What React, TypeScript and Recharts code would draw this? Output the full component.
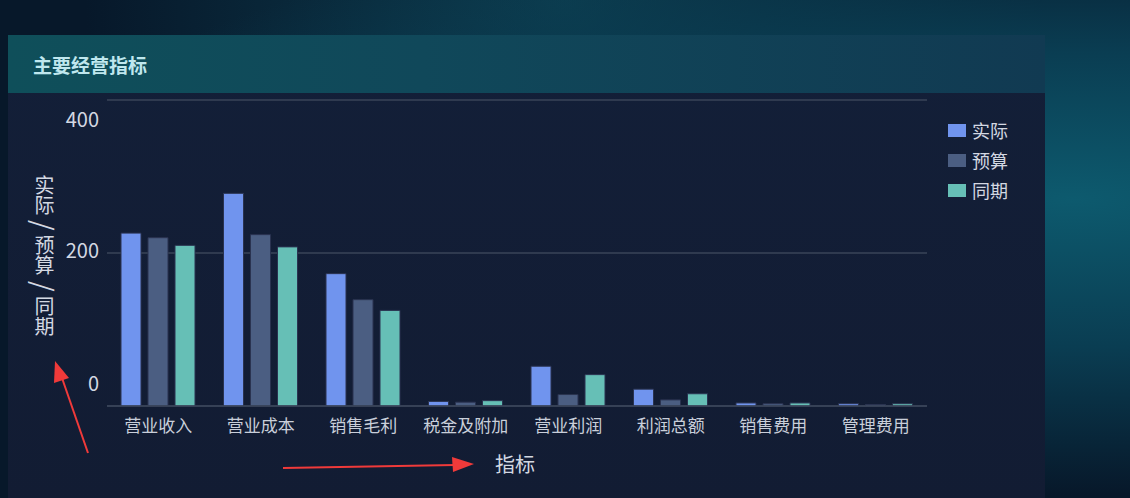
import React from "react"
import { Bar, BarChart, CartesianGrid, XAxis, YAxis } from "recharts"

const categories = ["营业收入", "营业成本", "销售毛利", "税金及附加", "营业利润", "利润总额", "销售费用", "管理费用"]
const actual = [226, 278, 173, 6, 52, 22, 4, 3]
const budget = [220, 224, 139, 5, 15, 8, 3, 2]
const lastYear = [210, 208, 125, 7, 41, 16, 4, 3]
const yTicks = [0, 200, 400]
const yTitleParts = ["实际", "预算", "同期"]

const SERIES = [
  { key: "实际", color: "#7094ee" },
  { key: "预算", color: "#4b5e82" },
  { key: "同期", color: "#66bfb6" },
]

const chartData = categories.map((name, i) => ({
  name,
  实际: actual[i],
  预算: budget[i],
  同期: lastYear[i],
}))

const FONT = '"Noto Sans CJK SC", "Noto Sans", sans-serif'

// tick labels sit a bit off the grid lines in the original, shift them the same way
const YTick = ({ x, y, payload }: any) => (
  <text
    x={x}
    y={y}
    dy={-22 + payload.value * 0.1 + 7}
    textAnchor="end"
    fill="#d3d8e2"
    fontSize={20}
    fontFamily={FONT}
  >
    {payload.value}
  </text>
)

const XTick = ({ x, y, payload }: any) => (
  <text x={x} y={y} dy={18} textAnchor="middle" fill="#c9cfda" fontSize={17} fontFamily={FONT}>
    {payload.value}
  </text>
)

export default function App() {
  return (
    <div
      style={{
        position: "fixed",
        left: 0,
        top: 0,
        width: 1130,
        height: 498,
        overflow: "hidden",
        fontFamily: FONT,
        background:
          "radial-gradient(ellipse at 95% 40%, #0d5a6e 0%, #0a3d52 35%, transparent 70%), radial-gradient(ellipse at 50% 0%, #0c3c4e 0%, #07182a 60%), #07162a",
      }}
    >
      {/* panel */}
      <div
        style={{
          position: "absolute",
          left: 8,
          top: 35,
          width: 1037,
          height: 470,
          background: "linear-gradient(180deg, #131f38 0%, #121c33 100%)",
        }}
      >
        <div
          style={{
            height: 58,
            background: "linear-gradient(90deg, #0f4f5a 0%, #10485a 40%, #113a52 100%)",
            display: "flex",
            alignItems: "center",
            paddingLeft: 25,
            color: "#bfe7ee",
            fontSize: 19,
            fontWeight: 700,
          }}
        >
          主要经营指标
        </div>
        <div style={{ position: "absolute", left: 0, top: 58 }}>
          <BarChart
            width={1037}
            height={405}
            data={chartData}
            margin={{ top: 7, right: 118, bottom: 62, left: 0 }}
            barCategoryGap={14}
            barGap={7}
            barSize={20}
          >
            <CartesianGrid horizontal vertical={false} stroke="#3a4459" strokeWidth={1.5} />
            <XAxis
              dataKey="name"
              height={30}
              tickLine={false}
              axisLine={{ stroke: "#3a4459", strokeWidth: 1.5 }}
              tick={<XTick />}
              interval={0}
            />
            <YAxis
              width={99}
              domain={[0, 400]}
              ticks={yTicks}
              axisLine={false}
              tickLine={false}
              tick={<YTick />}
            />
            {SERIES.map((s) => (
              <Bar
                key={s.key}
                dataKey={s.key}
                fill={s.color}
                stroke="#2a3350"
                strokeWidth={1}
                isAnimationActive={false}
              />
            ))}
          </BarChart>
        </div>

        {/* legend */}
        <div style={{ position: "absolute", left: 940, top: 80 }}>
          {SERIES.map((s) => (
            <div key={s.key} style={{ display: "flex", alignItems: "center", height: 30 }}>
              <div style={{ width: 18, height: 13, background: s.color, marginRight: 6 }} />
              <span style={{ color: "#d3d8e2", fontSize: 18 }}>{s.key}</span>
            </div>
          ))}
        </div>

        {/* y axis title: vertical text, CJK upright, slashes turned sideways */}
        <div
          style={{
            position: "absolute",
            left: 24,
            top: 140,
            writingMode: "vertical-rl",
            color: "#d3d8e2",
            fontSize: 20,
            lineHeight: "24px",
          }}
        >
          {yTitleParts.map((p, i) => (
            <React.Fragment key={p}>
              {i > 0 && <span style={{ fontSize: 27, margin: "5px 0" }}>/</span>}
              {p}
            </React.Fragment>
          ))}
        </div>
        {/* x axis title */}
        <div style={{ position: "absolute", left: 487, top: 414, color: "#d3d8e2", fontSize: 20 }}>指标</div>
      </div>

      {/* red annotation arrows */}
      <svg width={1130} height={498} style={{ position: "absolute", left: 0, top: 0, pointerEvents: "none" }}>
        <line x1={88} y1={453} x2={62} y2={378} stroke="#f03a3a" strokeWidth={2} />
        <polygon points="55,361 54,383 69,378" fill="#f03a3a" />
        <line x1={283} y1={468} x2={455} y2={465} stroke="#f03a3a" strokeWidth={2} />
        <polygon points="474,464 452,457 453,472" fill="#f03a3a" />
      </svg>
    </div>
  )
}
